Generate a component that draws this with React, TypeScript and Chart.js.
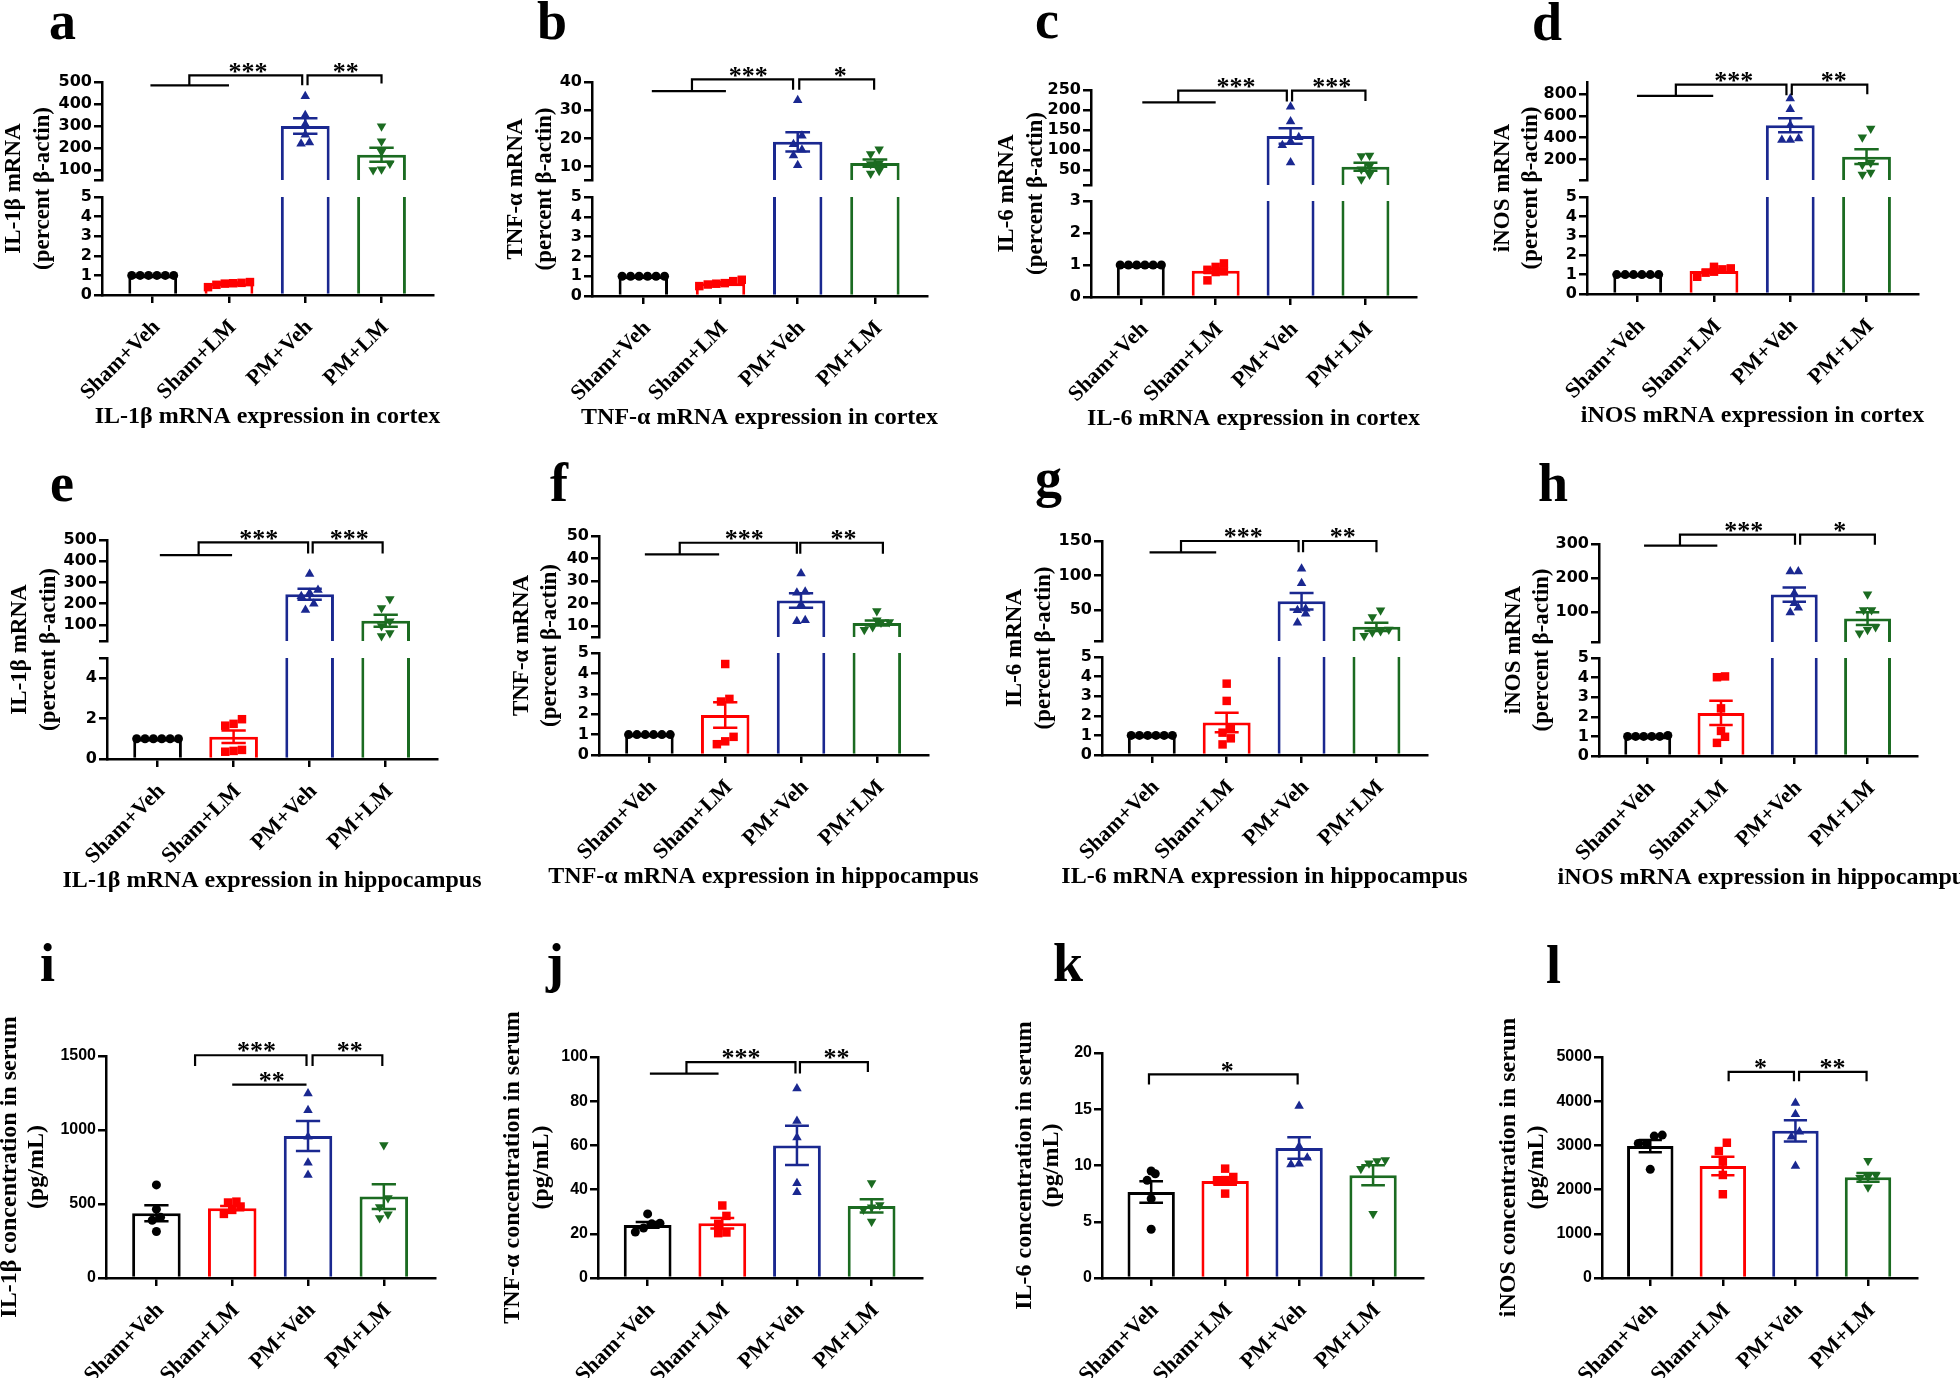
import React, { useEffect, useRef } from 'react';
import { Chart, registerables } from 'chart.js';

Chart.register(...registerables);

const SERIF = '"Liberation Serif", "Times New Roman", serif';
const GROUPS = ['Sham+Veh', 'Sham+LM', 'PM+Veh', 'PM+LM'];
const COLORS = ['#000000', '#ff0000', '#1a2890', '#1b6b21'];
const POINT_STYLES = ['circle', 'rect', 'triangle', 'triangle'];
const POINT_ROT = [0, 0, 0, 180];
const POINT_R = [4.5, 6, 5.5, 5.5];

// ---------- a : IL-1β cortex
const aPoints = [[1, 1, 1, 1, 1, 1], [0.62, 0.58, 0.6, 0.66, 0.52, 0.4], [435, 349, 308, 261, 225, 220], [299, 231, 183, 130, 104, 100]];
const aMeans = [1, 0.6, 300, 170];
const aSems = [0, 0.04, 35, 32];
const aHiTicks = [100, 200, 300, 400, 500];
const aLoTicks = [0, 1, 2, 3, 4, 5];
const aBrackets = [[[-0.03, 485], [1.0, 485]], [[0.48, 485], [0.48, 530], [1.96, 530], [1.96, 485]], [[2.03, 485], [2.03, 530], [3.0, 530], [3.0, 493]]];
const aStars = [{ x: 1.25, y: 530, t: '***' }, { x: 2.53, y: 530, t: '**' }];

// ---------- b : TNF-α cortex
const bPoints = [[1, 1, 1, 1, 1, 1], [0.75, 0.65, 0.62, 0.82, 0.58, 0.5], [33.5, 21, 18, 16, 14, 10.5], [16.2, 14.5, 11.2, 11, 8.6, 7.6]];
const bMeans = [1, 0.65, 18.8, 11.3];
const bSems = [0, 0.05, 3.4, 1.3];
const bHiTicks = [10, 20, 30, 40];
const bLoTicks = [0, 1, 2, 3, 4, 5];
const bBrackets = [[[0.11, 36.8], [1.07, 36.8]], [[0.63, 36.8], [0.63, 40.95], [1.94, 40.95], [1.94, 37.3]], [[2.02, 37.3], [2.02, 40.95], [2.99, 40.95], [2.99, 37.3]]];
const bStars = [{ x: 1.36, y: 40.95, t: '***' }, { x: 2.55, y: 40.95, t: '*' }];

// ---------- c : IL-6 cortex
const cPoints = [[1, 1, 1, 1, 1, 1], [0.94, 0.8, 0.85, 0.52, 1.05, 0.78], [208, 171, 132, 121, 112, 69], [85, 86, 60, 52, 39, 27]];
const cMeans = [1, 0.82, 135, 58];
const cSems = [0, 0.07, 19.5, 10];
const cHiTicks = [50, 100, 150, 200, 250];
const cLoTicks = [0, 1, 2, 3];
const cBrackets = [[[0.02, 219], [1.0, 219]], [[0.5, 219], [0.5, 248.3], [1.95, 248.3], [1.95, 221]], [[2.02, 221], [2.02, 248.3], [3.0, 248.3], [3.0, 222.5]]];
const cStars = [{ x: 1.27, y: 248.3, t: '***' }, { x: 2.55, y: 248.3, t: '***' }];

// ---------- d : iNOS cortex
const dPoints = [[1, 1, 1, 1, 1, 1], [1.32, 1.27, 1.4, 1.15, 1.1, 0.89], [760, 662, 515, 393, 378, 378], [485, 405, 170, 150, 60, 80]];
const dMeans = [1, 1.18, 515, 225];
const dSems = [0, 0.07, 65, 68];
const dHiTicks = [200, 400, 600, 800];
const dLoTicks = [0, 1, 2, 3, 4, 5];
const dBrackets = [[[-0.01, 785], [0.99, 785]], [[0.5, 785], [0.5, 889], [1.95, 889], [1.95, 791]], [[2.02, 791], [2.02, 889], [3.01, 889], [3.01, 800]]];
const dStars = [{ x: 1.26, y: 889, t: '***' }, { x: 2.57, y: 889, t: '**' }];

// ---------- e : IL-1β hippocampus
const ePoints = [[1, 1, 1, 1, 1, 1], [1.74, 1.65, 1.97, 0.45, 0.4, 0.36], [340, 265, 250, 235, 200, 170], [222, 180, 118, 95, 62, 48]];
const eMeans = [1, 1.1, 245, 120];
const eSems = [0, 0.31, 26, 28];
const eHiTicks = [100, 200, 300, 400, 500];
const eLoTicks = [0, 2, 4];
const eBrackets = [[[0.03, 429], [0.98, 429]], [[0.54, 429], [0.54, 489], [1.98, 489], [1.98, 437]], [[2.04, 437], [2.04, 489], [2.96, 489], [2.96, 437]]];
const eStars = [{ x: 1.33, y: 489, t: '***' }, { x: 2.52, y: 489, t: '***' }];

// ---------- f : TNF-α hippocampus
const fPoints = [[1, 1, 1, 1, 1, 1], [4.46, 2.75, 2.62, 0.89, 0.67, 0.53], [33.3, 25.2, 24.8, 19.5, 12.5, 12.1], [16.7, 12.6, 11.8, 11.5, 9.6, 8.3]];
const fMeans = [1, 1.96, 21.3, 11.3];
const fSems = [0, 0.62, 3.2, 1.1];
const fHiTicks = [10, 20, 30, 40, 50];
const fLoTicks = [0, 1, 2, 3, 4, 5];
const fBrackets = [[[-0.06, 41.85], [0.92, 41.85]], [[0.4, 41.85], [0.4, 47], [1.945, 47], [1.945, 42.1]], [[1.99, 42.1], [1.99, 47], [3.08, 47], [3.08, 42.1]]];
const fStars = [{ x: 1.25, y: 47, t: '***' }, { x: 2.56, y: 47, t: '**' }];

// ---------- g : IL-6 hippocampus
const gPoints = [[1, 1, 1, 1, 1, 1], [3.64, 2.76, 1.4, 1.14, 0.85, 0.54], [110, 89, 52, 50, 45, 32], [50, 40, 22, 20, 18, 13]];
const gMeans = [1, 1.66, 63, 26];
const gSems = [0, 0.5, 12, 6];
const gHiTicks = [50, 100, 150];
const gLoTicks = [0, 1, 2, 3, 4, 5];
const gBrackets = [[[-0.03, 133.6], [0.86, 133.6]], [[0.39, 133.6], [0.39, 150], [1.96, 150], [1.96, 133.6]], [[2.02, 133.6], [2.02, 150], [3.0, 150], [3.0, 133.6]]];
const gStars = [{ x: 1.22, y: 150, t: '***' }, { x: 2.55, y: 150, t: '**' }];

// ---------- h : iNOS hippocampus
const hPoints = [[1, 1, 1, 1.05, 1, 1], [4.02, 4.06, 2.43, 1.28, 0.98, 0.67], [219, 219, 155, 125, 112, 98], [152, 105, 105, 55, 47, 37]];
const hMeans = [1, 2.2, 151, 80];
const hSems = [0.01, 0.62, 21, 19];
const hHiTicks = [100, 200, 300];
const hLoTicks = [0, 1, 2, 3, 4, 5];
const hBrackets = [[[-0.05, 295], [0.95, 295]], [[0.44, 295], [0.44, 327.7], [2.01, 327.7], [2.01, 298]], [[2.08, 298], [2.08, 327.7], [3.1, 327.7], [3.1, 298]]];
const hStars = [{ x: 1.31, y: 327.7, t: '***' }, { x: 2.62, y: 327.7, t: '*' }];

// ---------- i : IL-1β serum
const iPoints = [[629, 465, 410, 390, 314], [483, 516, 460, 510, 433], [1246, 1134, 954, 779, 696], [898, 540, 480, 430, 405]];
const iMeans = [438, 472, 959, 550];
const iSems = [54, 15, 101, 84];
const iTicks = [0, 500, 1000, 1500];
const iBrackets = [[[0.51, 1433], [0.51, 1505], [1.98, 1505], [1.98, 1433]], [[1.0, 1307], [1.98, 1307]], [[2.06, 1433], [2.06, 1505], [2.98, 1505], [2.98, 1433]]];
const iStars = [{ x: 1.32, y: 1505, t: '***' }, { x: 1.52, y: 1307, t: '**' }, { x: 2.55, y: 1505, t: '**' }];

// ---------- j : TNF-α serum
const jPoints = [[24.8, 24.5, 29, 22.6, 20.8], [24.5, 32.8, 28.1, 20.3, 20.6], [85.7, 71, 63.6, 42.9, 38.8], [43, 33, 32, 31, 25.6]];
const jMeans = [24, 24.8, 60, 32.6];
const jSems = [1.3, 2.4, 8.9, 3];
const jTicks = [0, 20, 40, 60, 80, 100];
const jBrackets = [[[0.03, 92.5], [0.95, 92.5]], [[0.52, 92.5], [0.52, 97.7], [1.98, 97.7], [1.98, 92.5]], [[2.04, 92.5], [2.04, 97.7], [2.95, 97.7], [2.95, 93.2]]];
const jStars = [{ x: 1.25, y: 97.7, t: '***' }, { x: 2.53, y: 97.7, t: '**' }];

// ---------- k : IL-6 serum
const kPoints = [[9.51, 9.27, 8.68, 7.05, 4.33], [8.98, 9.72, 8.68, 8.7, 7.5], [15.3, 11.7, 10.7, 10.16, 10.1], [10.5, 10.4, 10.2, 9.72, 5.72]];
const kMeans = [7.64, 8.62, 11.56, 9.13];
const kSems = [0.96, 0.33, 0.96, 0.89];
const kTicks = [0, 5, 10, 15, 20];
const kBrackets = [[[-0.03, 17.2], [-0.03, 18.1], [1.98, 18.1], [1.98, 17.2]]];
const kStars = [{ x: 1.03, y: 18.1, t: '*' }];

// ---------- l : iNOS serum
const lPoints = [[3233, 3210, 3045, 3045, 2459], [3060, 2872, 2632, 2331, 1895], [3962, 3707, 3308, 3195, 2534], [2654, 2330, 2290, 2270, 2053]];
const lMeans = [2985, 2534, 3331, 2278];
const lSems = [140, 207, 240, 98];
const lTicks = [0, 1000, 2000, 3000, 4000, 5000];
const lBrackets = [[[1.08, 4451], [1.08, 4662], [1.98, 4662], [1.98, 4451]], [[2.05, 4451], [2.05, 4662], [2.98, 4662], [2.98, 4451]]];
const lStars = [{ x: 1.52, y: 4662, t: '*' }, { x: 2.51, y: 4662, t: '**' }];

const MRNA2 = '(percent β-actin)';
const SERUM2 = '(pg/mL)';

const PANELS: any[] = [
  { id: 'a', lx: 49, lb: 39, title: ['IL-1β mRNA', MRNA2], tOff: 88, tGap: 29, tSize: 23, caption: 'IL-1β mRNA expression in cortex', axisX: 101.7, right: 433, top: 81.7, bottom: 295,
    brk: { hiBottom: 180, loTop: 196.7, hiMin: 55, hiMax: 500, hiTicks: aHiTicks, loMax: 5, loTicks: aLoTicks }, points: aPoints, means: aMeans, sems: aSems, brackets: aBrackets, stars: aStars },
  { id: 'b', lx: 537, lb: 39, title: ['TNF-α mRNA', MRNA2], tOff: 76, tGap: 29, tSize: 23, caption: 'TNF-α mRNA expression in cortex', axisX: 591.7, right: 926.7, top: 81.7, bottom: 296,
    brk: { hiBottom: 180, loTop: 197.3, hiMin: 5.3, hiMax: 40, hiTicks: bHiTicks, loMax: 5, loTicks: bLoTicks }, points: bPoints, means: bMeans, sems: bSems, brackets: bBrackets, stars: bStars },
  { id: 'c', lx: 1035, lb: 38, title: ['IL-6 mRNA', MRNA2], tOff: 84, tGap: 29, tSize: 23, caption: 'IL-6 mRNA expression in cortex', axisX: 1091, right: 1415.7, top: 90, bottom: 296.7,
    brk: { hiBottom: 185, loTop: 201, hiMin: 12.5, hiMax: 250, hiTicks: cHiTicks, loMax: 3, loTicks: cLoTicks }, points: cPoints, means: cMeans, sems: cSems, brackets: cBrackets, stars: cStars },
  { id: 'd', lx: 1532, lb: 40, title: ['iNOS mRNA', MRNA2], tOff: 84, tGap: 28, tSize: 23, caption: 'iNOS mRNA expression in cortex', axisX: 1587.3, right: 1918.3, top: 81.7, bottom: 294,
    brk: { hiBottom: 180, loTop: 196.7, hiMin: 10, hiMax: 913, hiTicks: dHiTicks, loMax: 5, loTicks: dLoTicks }, points: dPoints, means: dMeans, sems: dSems, brackets: dBrackets, stars: dStars },
  { id: 'e', lx: 50, lb: 501, title: ['IL-1β mRNA', MRNA2], tOff: 87, tGap: 29, tSize: 23, caption: 'IL-1β mRNA expression in hippocampus', axisX: 107.3, right: 436.7, top: 540, bottom: 759,
    brk: { hiBottom: 641, loTop: 658.3, hiMin: 24.7, hiMax: 500, hiTicks: eHiTicks, loMax: 5, loTicks: eLoTicks }, points: ePoints, means: eMeans, sems: eSems, brackets: eBrackets, stars: eStars },
  { id: 'f', lx: 550, lb: 501, title: ['TNF-α mRNA', MRNA2], tOff: 77, tGap: 28.5, tSize: 23, caption: 'TNF-α mRNA expression in hippocampus', axisX: 599.3, right: 928.3, top: 535.7, bottom: 754.7,
    brk: { hiBottom: 636.7, loTop: 653.3, hiMin: 5.1, hiMax: 50, hiTicks: fHiTicks, loMax: 5, loTicks: fLoTicks }, points: fPoints, means: fMeans, sems: fSems, brackets: fBrackets, stars: fStars },
  { id: 'g', lx: 1035, lb: 496, title: ['IL-6 mRNA', MRNA2], tOff: 87, tGap: 29, tSize: 23, caption: 'IL-6 mRNA expression in hippocampus', axisX: 1102.3, right: 1426.7, top: 541, bottom: 755,
    brk: { hiBottom: 640.7, loTop: 656.7, hiMin: 5.5, hiMax: 150, hiTicks: gHiTicks, loMax: 5, loTicks: gLoTicks }, points: gPoints, means: gMeans, sems: gSems, brackets: gBrackets, stars: gStars },
  { id: 'h', lx: 1538, lb: 501, title: ['iNOS mRNA', MRNA2], tOff: 85, tGap: 28.5, tSize: 23, caption: 'iNOS mRNA expression in hippocampus', capShift: 8, axisX: 1599, right: 1916.7, top: 544.3, bottom: 755.7,
    brk: { hiBottom: 641.7, loTop: 658.3, hiMin: 11, hiMax: 300, hiTicks: hHiTicks, loMax: 5, loTicks: hLoTicks }, points: hPoints, means: hMeans, sems: hSems, brackets: hBrackets, stars: hStars },
  { id: 'i', lx: 40, lb: 981, title: ['IL-1β concentration in serum', SERUM2], tOff: 96, tGap: 27, tSize: 24, axisX: 106, right: 435, top: 1055.7, bottom: 1278.3,
    yMax: 1500, yTicks: iTicks, points: iPoints, means: iMeans, sems: iSems, brackets: iBrackets, stars: iStars },
  { id: 'j', lx: 546, lb: 981, title: ['TNF-α concentration in serum', SERUM2], tOff: 85, tGap: 28.5, tSize: 24, axisX: 598.3, right: 921.7, top: 1056.7, bottom: 1278.3,
    yMax: 100, yTicks: jTicks, points: jPoints, means: jMeans, sems: jSems, brackets: jBrackets, stars: jStars },
  { id: 'k', lx: 1053, lb: 981, title: ['IL-6 concentration in serum', SERUM2], tOff: 77, tGap: 26.5, tSize: 24, axisX: 1102.3, right: 1423.3, top: 1052.7, bottom: 1277.7,
    yMax: 20, yTicks: kTicks, points: kPoints, means: kMeans, sems: kSems, brackets: kBrackets, stars: kStars },
  { id: 'l', lx: 1546, lb: 983, title: ['iNOS concentration in serum', SERUM2], tOff: 93, tGap: 28, tSize: 24, axisX: 1601.7, right: 1916.7, top: 1056.7, bottom: 1278.3,
    yMax: 5000, yTicks: lTicks, points: lPoints, means: lMeans, sems: lSems, brackets: lBrackets, stars: lStars },
];

const YW = 110;
const PT = 70;
const PR = 50;
const XMIN = -0.665;
const XMAX = 3.675;

function geom(p: any) {
  const XH = p.caption ? 140 : 100;
  const ax = Math.round(p.axisX);
  const top = Math.round(p.top);
  const plotW = Math.round(p.right) - ax;
  const plotH = Math.round(p.bottom) - top;
  return { left: ax - YW, top: top - PT, w: YW + plotW + PR, h: PT + plotH + XH, XH, plotH };
}

function swarm(values: number[], thresh: number, dx: number): number[] {
  const idx = values.map((_, i) => i).sort((a, b) => values[a] - values[b]);
  const offs = new Array(values.length).fill(0);
  let row: number[] = [];
  const flush = () => {
    row.forEach((k, j) => { offs[k] = (j - (row.length - 1) / 2) * dx; });
    row = [];
  };
  for (const k of idx) {
    if (row.length && values[k] - values[row[0]] > thresh) flush();
    row.push(k);
  }
  flush();
  return offs;
}

function buildConfig(p: any) {
  const g = geom(p);
  const b = p.brk;
  const hiId = b ? 'yHi' : 'y';
  const rowTop = p.id < 'i';
  const tickFont = rowTop
    ? { family: '"DejaVu Sans", sans-serif', size: 16, weight: 'bold' }
    : { family: '"Liberation Sans", Arial, sans-serif', size: 16, weight: 'bold' };
  const axisOf = (v: number) => (!b ? 'y' : v > b.loMax ? 'yHi' : 'yLo');
  const segInfo = (id: string) => {
    if (id === 'yHi') return { min: b.hiMin, max: b.hiMax, px: b.hiBottom - p.top };
    if (id === 'yLo') return { min: 0, max: b.loMax, px: p.bottom - b.loTop };
    return { min: 0, max: p.yMax, px: p.bottom - p.top };
  };

  const datasets: any[] = [];
  const barBase = { type: 'bar', backgroundColor: '#ffffff', borderColor: COLORS, grouped: false, barPercentage: 0.64, categoryPercentage: 1, order: 4 };
  if (b) {
    datasets.push({ ...barBase, yAxisID: 'yLo', data: p.means.map((m: number, i: number) => ({ x: i, y: Math.min(m, b.loMax) })),
      borderWidth: (c: any) => (p.means[c.dataIndex] > b.loMax ? { top: 0, right: 3, bottom: 0, left: 3 } : 3) });
    datasets.push({ ...barBase, yAxisID: 'yHi', data: p.means.map((m: number, i: number) => ({ x: i, y: m > b.loMax ? m : null })), borderWidth: 3 });
  } else {
    datasets.push({ ...barBase, yAxisID: 'y', data: p.means.map((m: number, i: number) => ({ x: i, y: m })), borderWidth: 3 });
  }

  p.points.forEach((vals: number[], gi: number) => {
    const bySeg: Record<string, number[]> = {};
    vals.forEach((v) => { const id = axisOf(v); (bySeg[id] = bySeg[id] || []).push(v); });
    Object.keys(bySeg).forEach((id) => {
      const vs = bySeg[id];
      const s = segInfo(id);
      const offs = swarm(vs, ((s.max - s.min) * 9) / s.px, 0.11);
      datasets.push({ type: 'line', showLine: false, yAxisID: id, order: 3, clip: false,
        data: vs.map((v, k) => ({ x: gi + offs[k], y: v })),
        pointStyle: POINT_STYLES[gi], pointRadius: POINT_R[gi], pointRotation: POINT_ROT[gi],
        pointBackgroundColor: COLORS[gi], pointBorderColor: COLORS[gi], pointBorderWidth: 0, borderColor: COLORS[gi] });
    });
  });

  const CAP = 0.16;
  p.means.forEach((m: number, gi: number) => {
    const s = p.sems[gi];
    const id = axisOf(m);
    const hi = m + s;
    const lo = m - s;
    datasets.push({ type: 'line', yAxisID: id, order: 2, borderColor: COLORS[gi], borderWidth: 2.5, pointRadius: 0, tension: 0, spanGaps: false, fill: false,
      data: [{ x: gi - CAP, y: hi }, { x: gi + CAP, y: hi }, { x: gi, y: null }, { x: gi, y: hi }, { x: gi, y: lo }, { x: gi, y: null }, { x: gi - CAP, y: lo }, { x: gi + CAP, y: lo }] });
  });

  p.brackets.forEach((seg: number[][]) => {
    datasets.push({ type: 'line', yAxisID: hiId, order: 1, clip: false, borderColor: '#000', borderWidth: 2.2, pointRadius: 0, tension: 0, fill: false,
      borderJoinStyle: 'miter', data: seg.map(([x, y]) => ({ x, y })) });
  });

  const gridOpts = { display: true, drawOnChartArea: false, drawTicks: true, tickLength: 8, color: '#000', lineWidth: 2.5, offset: false };
  const borderOpts = { display: true, color: '#000', width: 2.5 };
  const fixW = (s: any) => { s.width = YW; };

  const scales: any = {
    x: {
      type: 'linear', position: 'bottom', min: XMIN, max: XMAX, offset: false, bounds: 'data',
      afterBuildTicks: (s: any) => { s.ticks = GROUPS.map((_, i) => ({ value: i })); },
      afterFit: (s: any) => { s.height = g.XH; },
      grid: gridOpts, border: borderOpts,
      ticks: { display: false, autoSkip: false },
      title: { display: false },
    },
  };

  if (b) {
    const topR = Math.round(p.top);
    const hiB = Math.round(b.hiBottom);
    const loT = Math.round(b.loTop);
    const botR = Math.round(p.bottom);
    scales.yHi = {
      type: 'linear', position: 'left', stack: 'brk', stackWeight: hiB - topR, weight: 3, min: b.hiMin, max: b.hiMax, beginAtZero: false, bounds: 'data',
      afterBuildTicks: (s: any) => { s.ticks = [b.hiMin, ...b.hiTicks].map((v: number) => ({ value: v })); },
      afterFit: fixW, grid: gridOpts, border: borderOpts,
      ticks: { autoSkip: false, color: '#000', padding: 2, font: tickFont, callback: (v: any) => (v === b.hiMin ? '' : String(v)) },
    };
    scales.yGap = { type: 'linear', position: 'left', stack: 'brk', stackWeight: loT - hiB, weight: 2, display: false, min: 0, max: 1 };
    const loAll = b.loTicks.includes(b.loMax) ? b.loTicks : [...b.loTicks, b.loMax];
    scales.yLo = {
      type: 'linear', position: 'left', stack: 'brk', stackWeight: botR - loT, weight: 1, min: 0, max: b.loMax, beginAtZero: false, bounds: 'data',
      afterBuildTicks: (s: any) => { s.ticks = loAll.map((v: number) => ({ value: v })); },
      afterFit: fixW, grid: gridOpts, border: borderOpts,
      ticks: { autoSkip: false, color: '#000', padding: 2, font: tickFont, callback: (v: any) => (b.loTicks.includes(v) ? String(v) : '') },
    };
  } else {
    scales.y = {
      type: 'linear', position: 'left', min: 0, max: p.yMax, beginAtZero: false, bounds: 'data',
      afterBuildTicks: (s: any) => { s.ticks = p.yTicks.map((v: number) => ({ value: v })); },
      afterFit: fixW, grid: gridOpts, border: borderOpts,
      ticks: { autoSkip: false, color: '#000', padding: 2, font: tickFont, callback: (v: any) => String(v) },
    };
  }

  const annot = {
    id: 'annot' + p.id,
    afterDatasetsDraw(chart: any) {
      const ctx = chart.ctx;
      const ca = chart.chartArea;
      const xs = chart.scales.x;
      const ys = chart.scales[hiId];
      ctx.save();
      ctx.fillStyle = '#000';
      // significance stars
      const SF = 26;
      ctx.font = `bold ${SF}px ${SERIF}`;
      ctx.textAlign = 'center';
      ctx.textBaseline = 'alphabetic';
      p.stars.forEach((s: any) => {
        const px = xs.getPixelForValue(s.x);
        const py = ys.getPixelForValue(s.y) - 8;
        ctx.fillText(s.t, px, py + 0.47 * SF);
      });
      // category labels (rotated 45°)
      ctx.font = `bold 22px ${SERIF}`;
      ctx.textAlign = 'right';
      ctx.textBaseline = 'middle';
      GROUPS.forEach((lab, i) => {
        const px = xs.getPixelForValue(i);
        ctx.save();
        ctx.translate(px + 4, ca.bottom + 29);
        ctx.rotate(-Math.PI / 4);
        ctx.fillText(lab, 0, 0);
        ctx.restore();
      });
      // caption under the axis
      if (p.caption) {
        ctx.font = `bold 24px ${SERIF}`;
        ctx.textAlign = 'center';
        ctx.textBaseline = 'alphabetic';
        ctx.fillText(p.caption, (ca.left + ca.right) / 2 + (p.capShift || 0), ca.bottom + 128);
      }
      // y-axis title
      const cy = (ca.top + ca.bottom) / 2;
      ctx.font = `bold ${p.tSize}px ${SERIF}`;
      ctx.textAlign = 'center';
      ctx.textBaseline = 'middle';
      p.title.forEach((line: string, k: number) => {
        ctx.save();
        ctx.translate(ca.left - p.tOff + k * p.tGap, cy);
        ctx.rotate(-Math.PI / 2);
        ctx.fillText(line, 0, 0);
        ctx.restore();
      });
      ctx.restore();
    },
  };

  return {
    type: 'bar',
    data: { datasets },
    options: {
      responsive: false, animation: false, devicePixelRatio: 1, events: [],
      layout: { padding: { left: 0, top: PT, right: PR, bottom: 0 } },
      plugins: { legend: { display: false }, tooltip: { enabled: false } },
      scales,
    },
    plugins: [annot],
  };
}

function Panel({ p }: { p: any }) {
  const ref = useRef<HTMLCanvasElement>(null);
  const g = geom(p);
  useEffect(() => {
    const chart = new Chart(ref.current as HTMLCanvasElement, buildConfig(p) as any);
    return () => chart.destroy();
  }, []);
  return (
    <canvas ref={ref} width={g.w} height={g.h}
      style={{ position: 'absolute', left: g.left, top: g.top, width: g.w, height: g.h }} />
  );
}

export default function App() {
  return (
    <div style={{ position: 'absolute', left: 0, top: 0, width: 1960, height: 1378, background: '#fff', overflow: 'hidden' }}>
      {PANELS.map((p) => (
        <div key={'L' + p.id} style={{ position: 'absolute', left: p.lx, top: p.lb - 45, font: `bold 54px ${SERIF}`, lineHeight: '54px', color: '#000' }}>
          {p.id}
        </div>
      ))}
      {PANELS.map((p) => <Panel key={p.id} p={p} />)}
    </div>
  );
}
